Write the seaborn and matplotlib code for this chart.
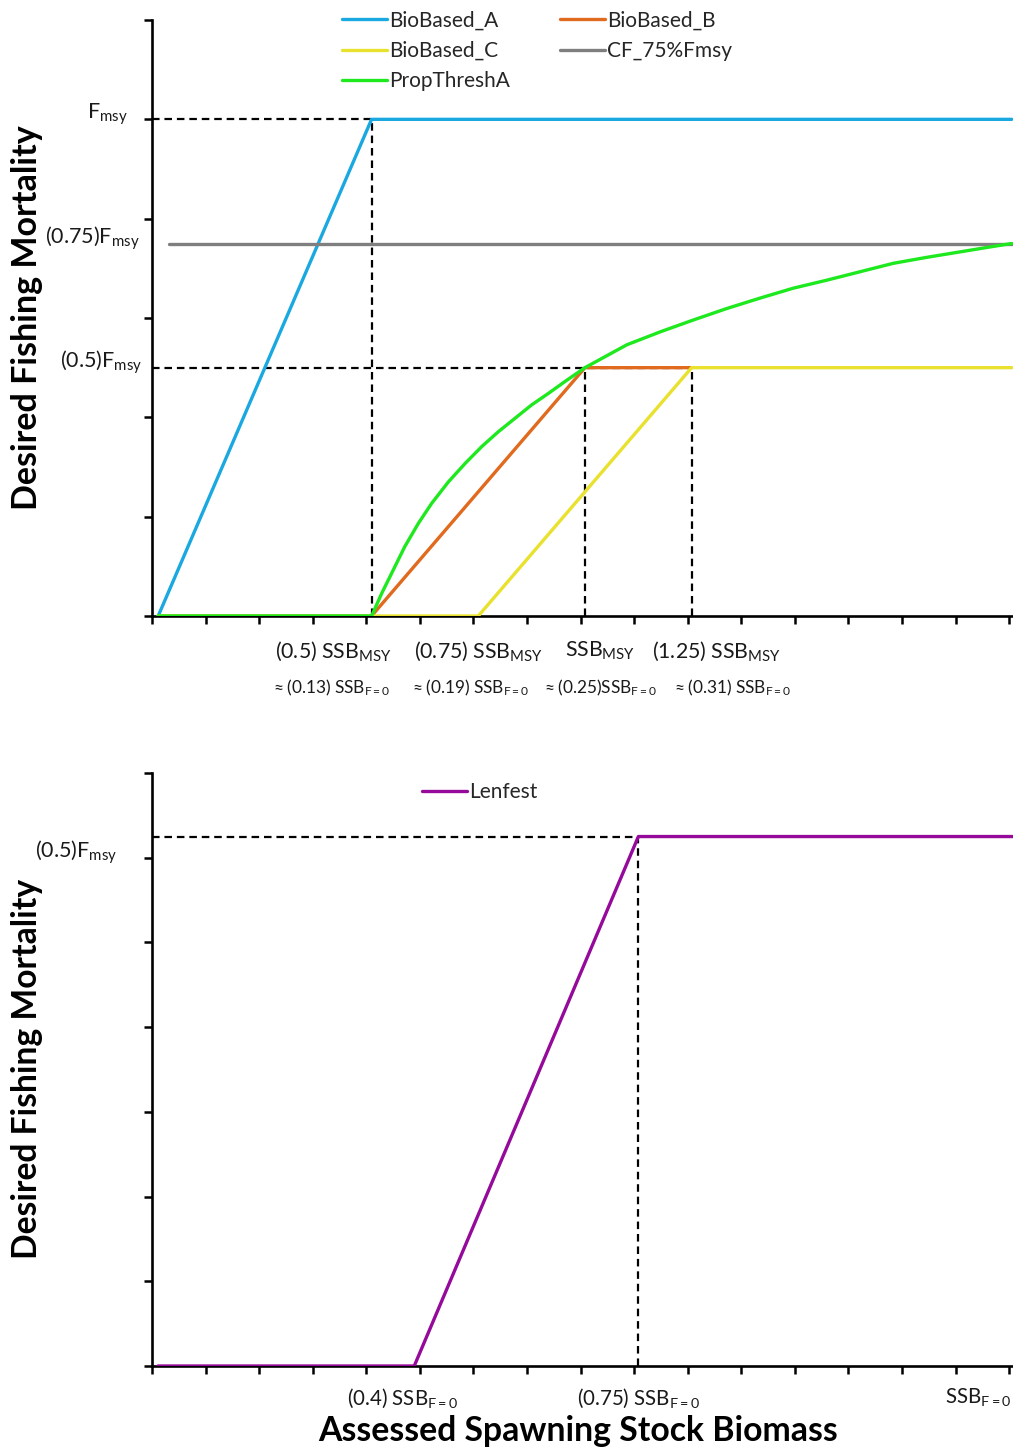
import numpy as np
import pandas as pd
import matplotlib
matplotlib.use("Agg")
import matplotlib.pyplot as plt
import matplotlib.transforms as mtrans
import seaborn as sns

# ---------------- data ----------------
# Top panel: x in units of SSB_MSY, y in units of F_msy
bioA_x = [0.0, 0.5, 2.0]
bioA_y = [0.0, 1.0, 1.0]
bioB_x = [0.0, 0.5, 1.0, 1.25]
bioB_y = [0.0, 0.0, 0.5, 0.5]
bioC_x = [0.0, 0.75, 1.25, 2.0]
bioC_y = [0.0, 0.0, 0.5, 0.5]
cf_x = [0.025, 2.0]
cf_y = [0.75, 0.75]
prop_x = [0.0, 0.5, 0.524, 0.547, 0.578, 0.61, 0.641, 0.68, 0.719, 0.758, 0.797,
          0.836, 0.875, 0.914, 0.953, 1.0, 1.098, 1.176, 1.254, 1.332,
          1.41, 1.488, 1.566, 1.644, 1.722, 1.80, 1.878, 1.956, 2.0]
prop_y = [0.0, 0.0, 0.046, 0.086, 0.14, 0.187, 0.227, 0.27, 0.307, 0.341, 0.371,
          0.398, 0.425, 0.448, 0.472, 0.5, 0.546, 0.572, 0.596, 0.619,
          0.64, 0.66, 0.676, 0.693, 0.71, 0.722, 0.733, 0.744, 0.75]

series_names = ["BioBased_A", "BioBased_B", "BioBased_C", "CF_75%Fmsy", "PropThreshA"]
series_colors = ["#1AA8E0", "#E06A1E", "#E8E22E", "#7F7F7F", "#1EE81E"]

top_ytick_labels = [r"F$_{\mathregular{msy}}$", r"(0.75)F$_{\mathregular{msy}}$", r"(0.5)F$_{\mathregular{msy}}$"]
top_ytick_vals = [1.0, 0.75, 0.5]
top_xlab1 = [r"(0.5) SSB$_{\mathregular{MSY}}$", r"(0.75) SSB$_{\mathregular{MSY}}$",
             r"SSB$_{\mathregular{MSY}}$", r"(1.25) SSB$_{\mathregular{MSY}}$"]
top_xlab1_pos = [0.41, 0.75, 1.035, 1.307]
top_xlab2 = [r"$\approx$(0.13) SSB$_{\mathregular{F=0}}$", r"$\approx$(0.19) SSB$_{\mathregular{F=0}}$",
             r"$\approx$(0.25)SSB$_{\mathregular{F=0}}$", r"$\approx$(0.31) SSB$_{\mathregular{F=0}}$"]
top_xlab2_pos = [0.405, 0.73, 1.035, 1.344]

# Bottom panel: x in units of SSB_F=0, y in units of F_msy
len_x = [0.0, 0.4, 0.75, 1.335]
len_y = [0.0, 0.0, 0.5, 0.5]
bot_xlab = [r"(0.4) SSB$_{\mathregular{F=0}}$", r"(0.75) SSB$_{\mathregular{F=0}}$", r"SSB$_{\mathregular{F=0}}$"]
bot_xlab_pos = [0.382, 0.75, 1.28]

# ---------------- style ----------------
sns.set_theme(style="white")
plt.rcParams["font.family"] = ["Lato", "DejaVu Sans"]
plt.rcParams["mathtext.fontset"] = "custom"
plt.rcParams["mathtext.rm"] = "Lato"
plt.rcParams["mathtext.it"] = "Lato:italic"
plt.rcParams["mathtext.bf"] = "Lato:bold"

W, H = 1013, 1450
fig = plt.figure(figsize=(W / 100, H / 100), dpi=100)

def fx(px):
    return px / W

def fy(py):
    return 1 - py / H

axL = 152
ax1 = fig.add_axes([fx(axL), fy(616), fx(W - axL), (616 - 20) / H])
ax2 = fig.add_axes([fx(axL), fy(1366), fx(W - axL), (1366 - 773) / H])

LW = 2.4
DASH = dict(color="black", lw=1.6, ls=(0, (3.4, 2.2)), zorder=1)
TXT = "#1a1a1a"

def style_axis(ax, yticks, xticks):
    for s in ["top", "right"]:
        ax.spines[s].set_visible(False)
    for s in ["left", "bottom"]:
        ax.spines[s].set_linewidth(1.9)
        ax.spines[s].set_color("black")
    ax.set_yticks(yticks)
    ax.set_xticks(xticks)
    ax.set_yticklabels([])
    ax.set_xticklabels([])
    ax.tick_params(axis="both", which="major", direction="out", length=5.5, width=1.8,
                   color="black", left=True, bottom=True)
    ax.set_xlabel("")
    ax.set_ylabel("")

# ---------------- top panel ----------------
x1_left, x1_right = -0.0145, 2.003
ax1.set_xlim(x1_left, x1_right)
ax1.set_ylim(0, 1.2)
ax1.plot([x1_left, 0.5], [1.0, 1.0], **DASH)
ax1.plot([0.5, 0.5], [0, 1.0], **DASH)
ax1.plot([x1_left, 1.25], [0.5, 0.5], **DASH)
ax1.plot([1.0, 1.0], [0, 0.5], **DASH)
ax1.plot([1.25, 1.25], [0, 0.5], **DASH)

xs_list = [bioA_x, bioB_x, bioC_x, cf_x, prop_x]
ys_list = [bioA_y, bioB_y, bioC_y, cf_y, prop_y]
handles = {}
for name, col, xs, ys in zip(series_names, series_colors, xs_list, ys_list):
    df = pd.DataFrame({"x": xs, "y": ys})
    sns.lineplot(data=df, x="x", y="y", ax=ax1, color=col, lw=LW, sort=False,
                 estimator=None, label=name, legend=False, zorder=3)
    handles[name] = ax1.get_lines()[-1]
    handles[name].set_solid_joinstyle("round")

style_axis(ax1, np.arange(0, 1.21, 0.2), x1_left + np.arange(17) * (x1_right - x1_left - 0.009) / 16)

order = ["BioBased_A", "BioBased_C", "PropThreshA", "BioBased_B", "CF_75%Fmsy"]
leg = ax1.legend([handles[n] for n in order], order, ncol=2, frameon=False,
                 loc="upper left", bbox_to_anchor=((342 - axL) / (W - axL), 1.016),
                 fontsize=15, handlelength=2.15, handletextpad=0.12,
                 columnspacing=2.4, labelspacing=0.5, borderpad=0, borderaxespad=0)

ytrans1 = mtrans.blended_transform_factory(ax1.transAxes, ax1.transData)
ylab_x = [(128 - axL) / (W - axL), (140 - axL) / (W - axL), (142 - axL) / (W - axL)]
for lab, v, xx in zip(top_ytick_labels, top_ytick_vals, ylab_x):
    ax1.text(xx, v + 0.01, lab, transform=ytrans1, ha="right", va="center", fontsize=15.5,
             color=TXT)

xtrans1 = mtrans.blended_transform_factory(ax1.transData, fig.transFigure)
for lab, p in zip(top_xlab1, top_xlab1_pos):
    ax1.text(p, fy(651), lab, transform=xtrans1, ha="center", va="center", fontsize=15.3,
             color=TXT)
for lab, p in zip(top_xlab2, top_xlab2_pos):
    ax1.text(p, fy(688), lab, transform=xtrans1, ha="center", va="center", fontsize=12.4,
             color=TXT)

# ---------------- bottom panel ----------------
x2_left, x2_right = -0.0095, 1.335
ax2.set_xlim(x2_left, x2_right)
ax2.set_ylim(0, 0.56)
ax2.plot([x2_left, 0.75], [0.5, 0.5], **DASH)
ax2.plot([0.75, 0.75], [0, 0.5], **DASH)
df_len = pd.DataFrame({"x": len_x, "y": len_y})
sns.lineplot(data=df_len, x="x", y="y", ax=ax2, color="#950A9B", lw=LW, sort=False,
             estimator=None, legend=False, zorder=3)
len_handle = ax2.get_lines()[-1]
style_axis(ax2, np.arange(0, 0.561, 0.08), x2_left + np.arange(17) * (x2_right - x2_left - 0.006) / 16)
ax2.legend([len_handle], ["Lenfest"], frameon=False, loc="upper left",
           bbox_to_anchor=((422 - axL) / (W - axL), 0.985), fontsize=15,
           handlelength=2.15, handletextpad=0.12, borderpad=0, borderaxespad=0)

ytrans2 = mtrans.blended_transform_factory(ax2.transAxes, ax2.transData)
ax2.text((117 - axL) / (W - axL), 0.5 - 0.015, r"(0.5)F$_{\mathregular{msy}}$", transform=ytrans2,
         ha="right", va="center", fontsize=15.5, color=TXT)
xtrans2 = mtrans.blended_transform_factory(ax2.transData, fig.transFigure)
for lab, p in zip(bot_xlab, bot_xlab_pos):
    ax2.text(p, fy(1398), lab, transform=xtrans2, ha="center", va="center", fontsize=14.8,
             color=TXT)

# axis titles
fig.text(fx(27), fy(318), "Desired Fishing Mortality", rotation=90, ha="center", va="center",
         fontsize=24.5, fontweight="bold", color="black")
fig.text(fx(27), fy(1069), "Desired Fishing Mortality", rotation=90, ha="center", va="center",
         fontsize=24.2, fontweight="bold", color="black")
fig.text(fx(578), fy(1431), "Assessed Spawning Stock Biomass", ha="center", va="center",
         fontsize=24.3, fontweight="bold", color="black")

fig.savefig("out.png", dpi=100)
